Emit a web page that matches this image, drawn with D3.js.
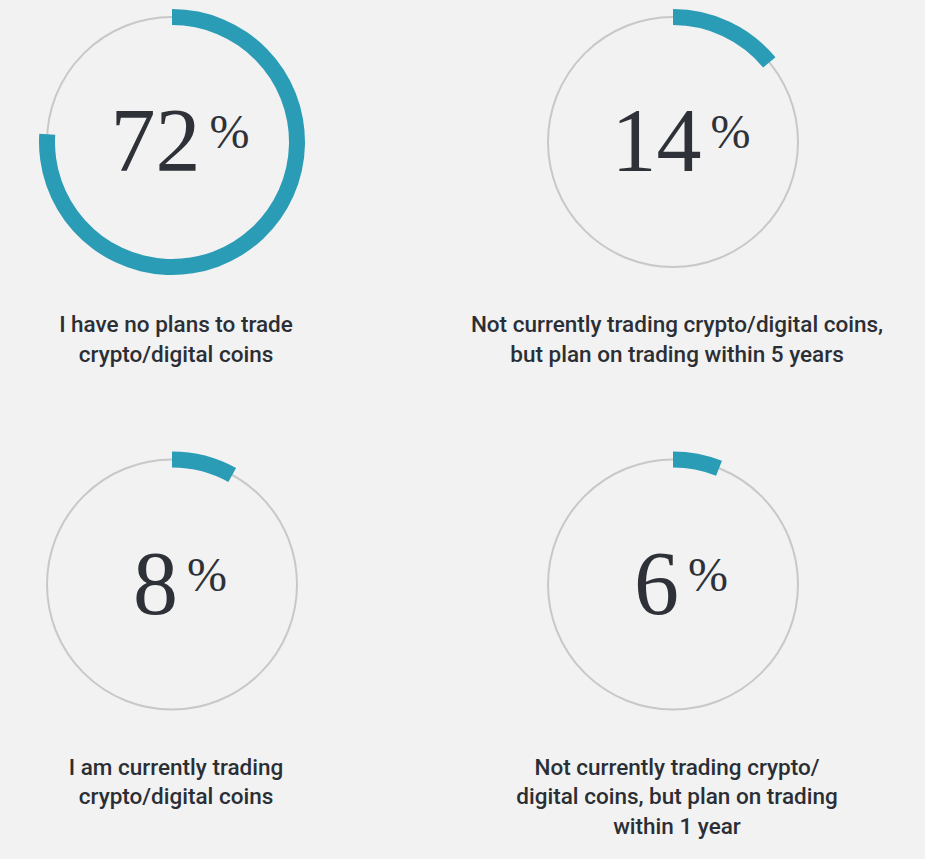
<!DOCTYPE html>
<html lang="en">

<head>
  <meta charset="utf-8">
  <title>Crypto trading plans</title>
  <script src="https://d3js.org/d3.v7.min.js" charset="utf-8"></script>
  <style type="text/css">
    body {
      margin: 0;
      background: #f2f2f2;
    }

    .ring-bg {
      fill: none;
      stroke: #c8c8c8;
      stroke-width: 2;
    }

    .ring {
      fill: #2b9cb5;
    }

    .big {
      font-family: "Liberation Serif", "DejaVu Serif", serif;
      fill: #2e3238;
    }

    .label {
      font-family: Roboto, "Noto Sans", sans-serif;
      font-weight: 500;
      font-size: 22.5px;
      fill: #2b2f35;
    }
  </style>
</head>

<body>
  <script type="text/javascript">
    // values printed in the middle of each ring
    var shares = [72, 14, 8, 6];
    // how far each ring is actually swept in the picture (the 72 ring runs a bit long)
    var sweeps = [76, 14, 8, 6];
    var labels = [
      ["I have no plans to trade", "crypto/digital coins"],
      ["Not currently trading crypto/digital coins,", "but plan on trading within 5 years"],
      ["I am currently trading", "crypto/digital coins"],
      ["Not currently trading crypto/", "digital coins, but plan on trading", "within 1 year"]
    ];

    var width = 925,
      height = 859,
      r = 125,
      thick = 16;

    var svg = d3.select("body")
      .append("svg")
      .attr("width", width)
      .attr("height", height);

    var col = d3.scalePoint().domain([0, 1]).range([172, 673]);
    var row = d3.scalePoint().domain([0, 1]).range([142, 584.5]);
    var angle = d3.scaleLinear().domain([0, 100]).range([0, 2 * Math.PI]);

    var arc = d3.arc()
      .innerRadius(r - thick / 2)
      .outerRadius(r + thick / 2)
      .startAngle(0)
      .endAngle(function (d) {
        return angle(d);
      });

    var data = shares.map(function (v, i) {
      return {
        value: v,
        sweep: sweeps[i],
        lines: labels[i],
        cx: col(i % 2),
        cy: row(Math.floor(i / 2))
      };
    });

    var g = svg.selectAll("g.donut")
      .data(data)
      .enter()
      .append("g")
      .attr("class", "donut")
      .attr("transform", function (d) {
        return "translate(" + d.cx + "," + d.cy + ")";
      });

    g.append("circle")
      .attr("class", "ring-bg")
      .attr("r", r);

    g.append("path")
      .attr("class", "ring")
      .attr("d", function (d) {
        return arc(d.sweep);
      });

    var num = g.append("text")
      .attr("class", "big")
      .attr("text-anchor", "middle")
      .attr("x", 8)
      .attr("y", 29);

    num.append("tspan")
      .attr("font-size", "90px")
      .text(function (d) {
        return d.value;
      });

    num.append("tspan")
      .attr("font-size", "48px")
      .attr("dx", 9)
      .attr("dy", -23)
      .text("%");

    g.append("text")
      .attr("class", "label")
      .attr("text-anchor", "middle")
      .selectAll("tspan")
      .data(function (d) {
        return d.lines;
      })
      .enter()
      .append("tspan")
      .attr("x", 4)
      .attr("y", function (d, i) {
        return 190 + i * 29.5;
      })
      .text(function (d) {
        return d;
      });
  </script>
</body>

</html>
